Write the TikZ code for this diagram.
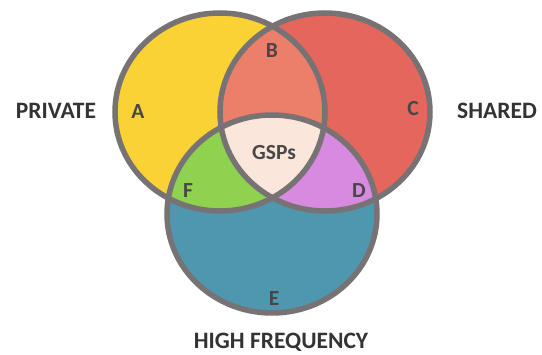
\documentclass[tikz,border=0pt]{standalone}
\usepackage{fontspec}
\setmainfont{Carlito}
\definecolor{ringgray}{HTML}{777273}
\definecolor{inkgray}{HTML}{333333}
\definecolor{fillA}{HTML}{FBD234}
\definecolor{fillC}{HTML}{E4665C}
\definecolor{fillE}{HTML}{4F97AF}
\definecolor{fillB}{HTML}{EB7F6A}
\definecolor{fillF}{HTML}{8ED250}
\definecolor{fillD}{HTML}{D78AE0}
\definecolor{fillG}{HTML}{FAE6DA}
\begin{document}
\begin{tikzpicture}[x=1pt,y=-1pt,
  ring/.style={draw=ringgray,line width=5.5pt},
  regionlabel/.style={font=\bfseries\fontsize{21.5}{21.5}\selectfont,text=inkgray!90!white,inner sep=0pt},
  setname/.style={font=\bfseries\fontsize{23.5}{23.5}\selectfont,text=inkgray,inner sep=0pt}]
\useasboundingbox (0,0) rectangle (542,355);
% the three sets
\def\setA{(220,112) ellipse [x radius=105pt, y radius=99pt]}
\def\setC{(325,112) ellipse [x radius=105pt, y radius=99pt]}
\def\setE{(272,214) ellipse [x radius=105pt, y radius=99pt]}
% base fills
\fill[fillA] \setA;
\fill[fillC] \setC;
\fill[fillE] \setE;
% pairwise overlaps
\begin{scope}\clip \setA; \fill[fillB] \setC; \end{scope}
\begin{scope}\clip \setA; \fill[fillF] \setE; \end{scope}
\begin{scope}\clip \setC; \fill[fillD] \setE; \end{scope}
% triple overlap
\begin{scope}\clip \setA; \clip \setC; \fill[fillG] \setE; \end{scope}
% outlines
\draw[ring] \setA;
\draw[ring] \setC;
\draw[ring] \setE;
% region labels
\node[regionlabel] (la) at (138,112) {A};
\node[regionlabel] (lb) at (272,51) {B};
\node[regionlabel] (lc) at (413,109) {C};
\node[regionlabel] (ld) at (359,191) {D};
\node[regionlabel] (le) at (274,299) {E};
\node[regionlabel] (lf) at (188,191) {F};
\node[regionlabel] (lg) at (274,153) {GSPs};
% set names
\node[setname] (private) at (56,111) {PRIVATE};
\node[setname] (shared) at (497,111) {SHARED};
\node[setname] (highfreq) at (281,342) {HIGH FREQUENCY};
\end{tikzpicture}
\end{document}
